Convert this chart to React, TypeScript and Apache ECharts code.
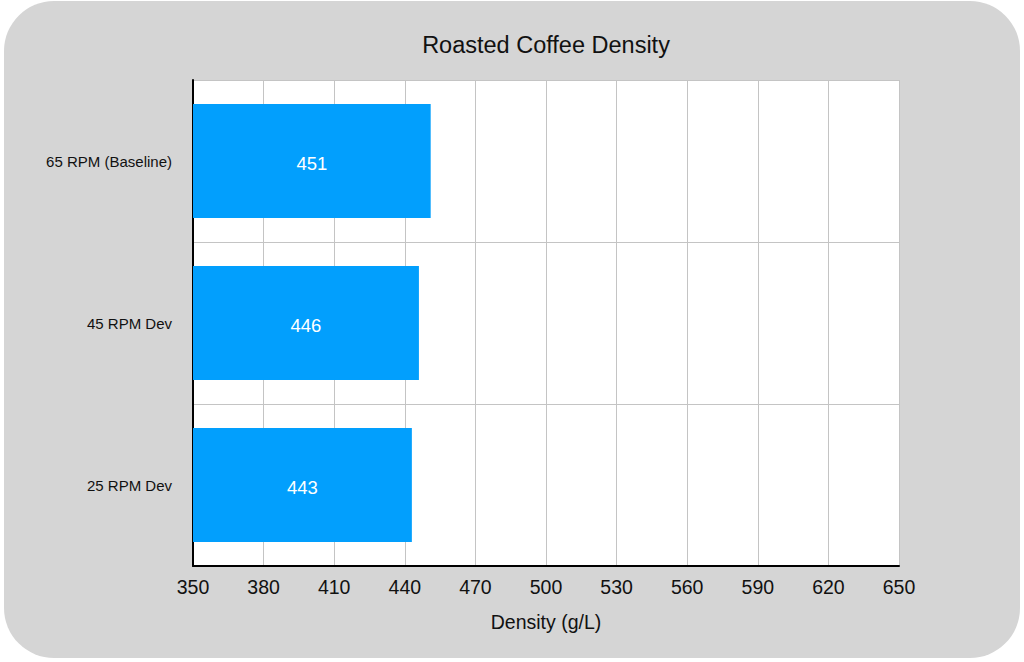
import React, { useEffect, useRef } from "react";
import * as echarts from "echarts";

const categories = ["65 RPM (Baseline)", "45 RPM Dev", "25 RPM Dev"];
const densityValues = [451, 446, 443];
const xTicks = { min: 350, max: 650, interval: 30 };

const FONT = "'Liberation Sans', Arial, Helvetica, sans-serif";

export default function App() {
  const ref = useRef<HTMLDivElement>(null);
  useEffect(() => {
    if (!ref.current) return;
    const chart = echarts.init(ref.current, undefined, { renderer: "svg" });
    chart.setOption({
      animation: false,
      backgroundColor: "#ffffff",
      textStyle: { fontFamily: FONT },
      graphic: [
        {
          type: "rect",
          z: -10,
          silent: true,
          shape: { x: 4, y: 1, width: 1016, height: 657, r: 50 },
          style: { fill: "#d5d5d5" },
        },
        {
          type: "rect",
          z: -5,
          silent: true,
          shape: { x: 193, y: 80, width: 706, height: 486 },
          style: { fill: "#ffffff" },
        },
        {
          type: "text",
          z: 10,
          silent: true,
          x: 546,
          y: 45,
          style: {
            text: "Roasted Coffee Density",
            fontFamily: FONT,
            fontSize: 23.5,
            fill: "#111",
            align: "center",
            verticalAlign: "middle",
          },
        },
      ],
      grid: { left: 193, right: 125, top: 80, bottom: 96, containLabel: false },
      xAxis: {
        type: "value",
        min: xTicks.min,
        max: xTicks.max,
        interval: xTicks.interval,
        name: "Density (g/L)",
        nameLocation: "middle",
        nameGap: 46,
        nameTextStyle: { fontFamily: FONT, fontSize: 19.5, color: "#111" },
        axisLine: { show: true, lineStyle: { color: "#000", width: 2 } },
        axisTick: { show: false },
        axisLabel: { fontFamily: FONT, fontSize: 19.5, color: "#111", margin: 11 },
        splitLine: { show: true, lineStyle: { color: "#c4c4c4", width: 1 } },
      },
      yAxis: {
        type: "category",
        data: categories,
        inverse: true,
        axisLine: { show: true, lineStyle: { color: "#000", width: 2 } },
        axisTick: { show: false },
        axisLabel: { fontFamily: FONT, fontSize: 15, color: "#111", margin: 21 },
        splitLine: { show: true, lineStyle: { color: "#c4c4c4", width: 1 } },
      },
      series: [
        {
          type: "bar",
          data: densityValues,
          barWidth: "70.5%",
          itemStyle: { color: "#029ffd" },
          label: {
            show: true,
            position: "inside",
            color: "#ffffff",
            fontFamily: FONT,
            fontSize: 18.5,
            offset: [0, 2],
          },
        },
      ],
    });
    return () => chart.dispose();
  }, []);
  return (
    <div
      ref={ref}
      style={{ position: "absolute", left: 0, top: 0, width: 1024, height: 662 }}
    />
  );
}
